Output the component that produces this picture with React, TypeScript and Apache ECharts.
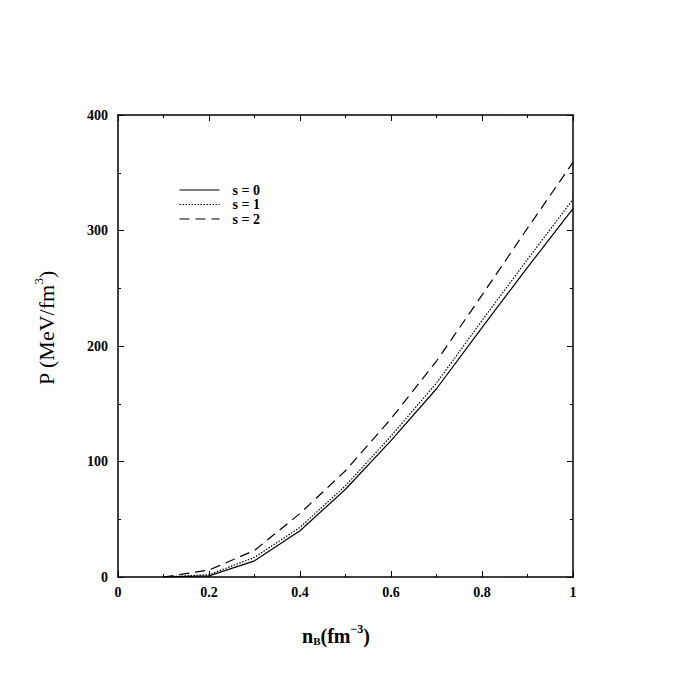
import React, { useEffect, useRef } from "react";
import * as echarts from "echarts";

const xValues = [0.1, 0.2, 0.3, 0.4, 0.5, 0.6, 0.7, 0.8, 0.9, 1.0];
const s0 = [0, 1, 14, 40, 76, 118, 163, 216, 268, 319];
const s1 = [0, 2, 17, 43, 79, 122, 168, 222, 275, 327];
const s2 = [0, 6, 23, 55, 92, 137, 187, 244, 302, 359];
const seriesNames = ["s = 0", "s = 1", "s = 2"];
const lineTypes: any[] = ["solid", [1.5, 1.5], [10, 6]];

const FONT = "'Liberation Serif', 'Times New Roman', serif";

export default function App() {
  const ref = useRef<HTMLDivElement>(null);
  useEffect(() => {
    if (!ref.current) return;
    const chart = echarts.init(ref.current, null, { renderer: "svg" });
    const all = [s0, s1, s2];
    const axisCommon = {
      type: "value",
      axisLine: { show: true, onZero: false, lineStyle: { color: "#000", width: 1.5 } },
      axisTick: { show: true, inside: true, length: 6, lineStyle: { color: "#000", width: 1 } },
      minorTick: { show: true, splitNumber: 2, length: 3, lineStyle: { color: "#000", width: 1 } },
      splitLine: { show: false },
    };
    chart.setOption({
      animation: false,
      backgroundColor: "#fff",
      grid: { left: 118, right: 119, top: 115, bottom: 115 },
      xAxis: [
        {
          ...axisCommon,
          position: "bottom",
          min: 0,
          max: 1,
          interval: 0.2,
          axisLabel: {
            color: "#000",
            fontFamily: FONT,
            fontWeight: "bold",
            fontSize: 14,
            margin: 8,
            formatter: (v: number) => String(Math.round(v * 10) / 10),
          },
        },
        {
          ...axisCommon,
          position: "top",
          min: 0,
          max: 1,
          interval: 0.2,
          axisLabel: { show: false },
        },
      ],
      yAxis: [
        {
          ...axisCommon,
          position: "left",
          min: 0,
          max: 400,
          interval: 100,
          axisLabel: {
            color: "#000",
            fontFamily: FONT,
            fontWeight: "bold",
            fontSize: 14,
            margin: 10,
          },
        },
        {
          ...axisCommon,
          position: "right",
          min: 0,
          max: 400,
          interval: 100,
          axisLabel: { show: false },
        },
      ],
      legend: {
        left: 174,
        top: 178,
        orient: "vertical",
        itemWidth: 40,
        itemHeight: 10,
        itemGap: 0.5,
        itemStyle: { opacity: 0 },
        lineStyle: { width: 1 },
        textStyle: { fontFamily: FONT, fontWeight: "bold", fontSize: 14, color: "#000", padding: [0, 0, 0, 8] },
        data: seriesNames,
      },
      series: all.map((vals, i) => ({
        name: seriesNames[i],
        type: "line",
        symbol: "none",
        showSymbol: false,
        data: xValues.map((x, j) => [x, vals[j]]),
        lineStyle: { color: "#000", width: 1.2, type: lineTypes[i] },
        itemStyle: { color: "#000" },
      })),
      graphic: [
        {
          type: "text",
          x: 46,
          y: 328,
          rotation: Math.PI / 2,
          style: {
            text: "{n|P (MeV/fm}{sup|3}{n|)}",
            align: "center",
            verticalAlign: "middle",
            rich: {
              n: { fontFamily: FONT, fontSize: 22, fill: "#000" },
              sup: { fontFamily: FONT, fontSize: 13, fill: "#000", padding: [0, 0, 16, 0] },
            },
          },
        },
        {
          type: "text",
          x: 336,
          y: 636,
          style: {
            text: "{n|n}{sub|B}{n|(fm}{sup|−3}{n|)}",
            align: "center",
            verticalAlign: "middle",
            rich: {
              n: { fontFamily: FONT, fontSize: 20, fontWeight: "bold", fill: "#000" },
              sub: { fontFamily: FONT, fontSize: 11, fontWeight: "bold", fill: "#000", padding: [10, 0, 0, 0] },
              sup: { fontFamily: FONT, fontSize: 12, fontWeight: "bold", fill: "#000", padding: [0, 0, 14, 0] },
            },
          },
        },
      ],
    });
    return () => chart.dispose();
  }, []);
  return <div ref={ref} style={{ width: 692, height: 692, margin: -8 }} />;
}
